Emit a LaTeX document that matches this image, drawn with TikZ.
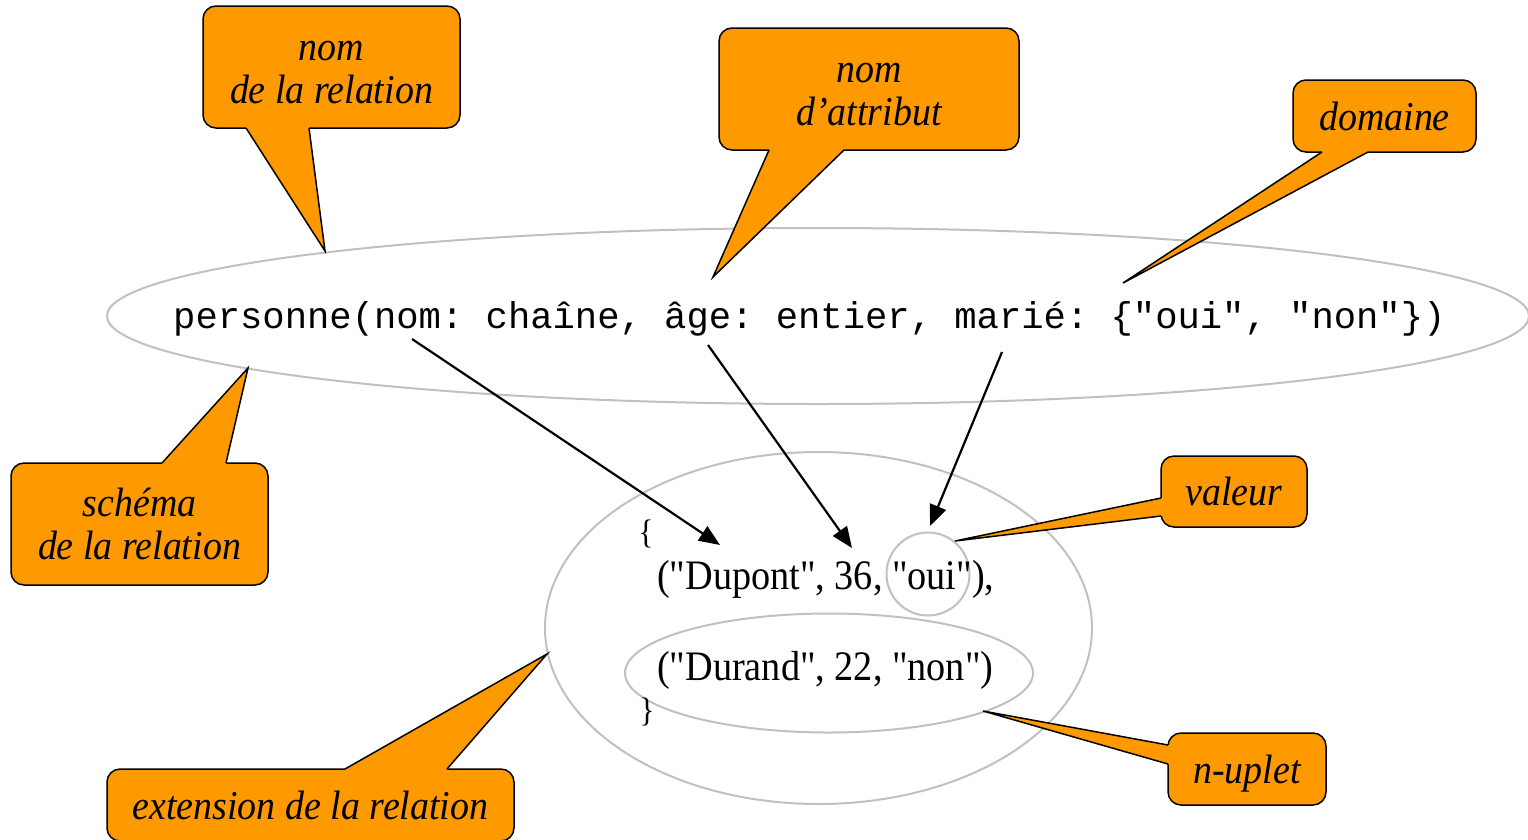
\documentclass[tikz,border=0pt]{standalone}
\usepackage{fontspec}
\setmainfont{Liberation Serif}
\setmonofont{Liberation Mono}
\newfontfamily\calloutfont[FakeStretch=0.925]{Liberation Serif}
\newfontfamily\tuplefont[FakeStretch=0.91]{Liberation Serif}
\usetikzlibrary{arrows.meta,calc,shapes.geometric}

\definecolor{callorange}{RGB}{255,153,0}
\definecolor{ringgray}{RGB}{192,192,192}

\tikzset{
  callbox/.style={draw=black, line width=1.5pt, fill=callorange,
    rounded corners=13pt, inner sep=0pt, align=center,
    font=\calloutfont\itshape\fontsize{41}{43}\selectfont},
  tailline/.style={draw=black, line width=1.5pt, line join=miter},
  ring/.style={draw=ringgray, line width=2pt, inner sep=0pt},
  pointer/.style={draw=black, line width=2.2pt,
    -{Triangle[length=21pt,width=17pt]}},
  schemafont/.style={font=\ttfamily\fontsize{37.2}{40}\selectfont, inner sep=0pt},
  tuplefont/.style={font=\tuplefont\fontsize{42}{44}\selectfont, inner sep=0pt},
  bracefont/.style={font=\tuplefont\fontsize{34}{36}\selectfont, inner sep=0pt}
}

% strut lifting the top of a two-line callout text
\newcommand\topstrut{\rule{0pt}{31pt}}

% callout pointer: base point a, tip, base point b, inward shift
\newcommand\calltail[4]{%
  \fill[callorange] (#1) -- (#2) -- (#3) -- ($(#3)+#4$) -- ($(#1)+#4$) -- cycle;
  \draw[tailline] (#1) -- (#2) -- (#3);
}

\begin{document}
\begin{tikzpicture}[x=1pt, y=-1pt]
\useasboundingbox (0,0) rectangle (1528,839);

% ---- outlines: schema, extension, tuple, value
\node[ring, ellipse, minimum width=1422pt, minimum height=176pt] (schema) at (818,316) {};
\node[ring, ellipse, minimum width=547pt, minimum height=352pt] (ext) at (818.5,628) {};
\node[ring, ellipse, minimum width=408pt, minimum height=119pt] (tuple) at (829,673) {};
\node[ring, circle, minimum size=83pt] (oui) at (928,574) {};

% ---- texts
\node[schemafont, anchor=base west] (rel) at (173,328)
  {personne(nom: chaîne, âge: entier, marié: \{"oui", "non"\})};
\node[bracefont] (lbrace) at (646,534) {\{};
\node[tuplefont, anchor=base west] (dupont) at (657,589) {("Dupont", 36, "oui"),};
\node[tuplefont, anchor=base west] (durand) at (657,680) {("Durand", 22, "non")};
\node[bracefont] (rbrace) at (647,712) {\}};

% ---- arrows from the schema to the tuple
\coordinate (s1) at (412,339);
\coordinate (s2) at (708,345);
\coordinate (s3) at (1002,352);
\coordinate (e1) at (720,545);
\coordinate (e2) at (852,548);
\coordinate (e3) at (930,526);
\draw[pointer] (s1) -- (e1);
\draw[pointer] (s2) -- (e2);
\draw[pointer] (s3) -- (e3);

% ---- callouts
\node[callbox, minimum width=257pt, minimum height=122pt] (c1) at (331.5,67) {\topstrut nom\\de la relation};
\coordinate (c1a) at (246,128); \coordinate (c1t) at (325,251); \coordinate (c1b) at (309,128);
\calltail{c1a}{c1t}{c1b}{(0,-3)}

\node[callbox, minimum width=300pt, minimum height=122pt] (c2) at (869,89) {\topstrut nom\\d’attribut};
\coordinate (c2a) at (769,150); \coordinate (c2t) at (713,277); \coordinate (c2b) at (844,150);
\calltail{c2a}{c2t}{c2b}{(0,-3)}

\node[callbox, minimum width=183pt, minimum height=72pt] (c3) at (1384.5,116) {domaine};
\coordinate (c3a) at (1322,152); \coordinate (c3t) at (1123,283); \coordinate (c3b) at (1368,152);
\calltail{c3a}{c3t}{c3b}{(0,-3)}

\node[callbox, minimum width=257pt, minimum height=122pt] (c4) at (139.5,524) {schéma\\de la relation};
\coordinate (c4a) at (162,463); \coordinate (c4t) at (248,368); \coordinate (c4b) at (226,463);
\calltail{c4a}{c4t}{c4b}{(0,3)}

\node[callbox, minimum width=146pt, minimum height=71pt] (c5) at (1234,491.5) {valeur};
\coordinate (c5a) at (1161,498); \coordinate (c5t) at (955,541); \coordinate (c5b) at (1161,516);
\calltail{c5a}{c5t}{c5b}{(3,0)}

\node[callbox, minimum width=407pt, minimum height=72pt] (c6) at (310.5,805) {extension de la relation};
\coordinate (c6a) at (345,769); \coordinate (c6t) at (547,654); \coordinate (c6b) at (447,769);
\calltail{c6a}{c6t}{c6b}{(0,3)}

\node[callbox, minimum width=158pt, minimum height=72pt, text depth=0pt] (c7) at (1247,769) {n-uplet};
\coordinate (c7a) at (1168,745); \coordinate (c7t) at (983,711); \coordinate (c7b) at (1168,764);
\calltail{c7a}{c7t}{c7b}{(3,0)}
\end{tikzpicture}
\end{document}
